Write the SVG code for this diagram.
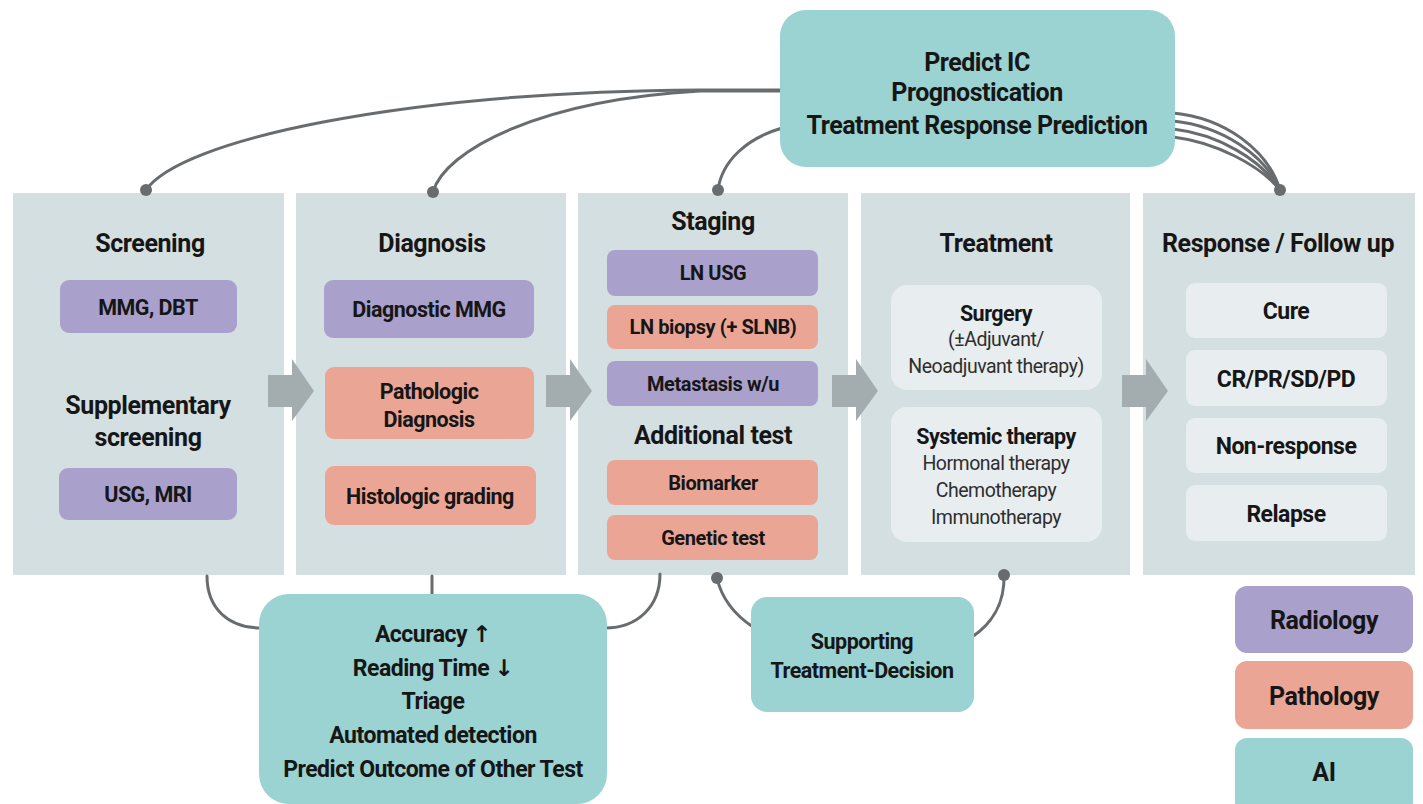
<svg xmlns="http://www.w3.org/2000/svg" width="1423" height="804" viewBox="0 0 1423 804">
<style>
text{font-family:Roboto,"Liberation Sans",Arial,sans-serif;fill:#161616;text-anchor:middle;dominant-baseline:central}
.t{font-size:25px;font-weight:700;letter-spacing:-0.4px}
.l{font-size:21.5px;font-weight:700;letter-spacing:-0.5px}
.s{font-size:20px;font-weight:700;letter-spacing:-0.4px}
.rs{font-size:23px;font-weight:700;letter-spacing:-0.5px}
.r{font-size:19.5px;font-weight:400;fill:#2e2e2e;letter-spacing:-0.5px}
.ai{font-size:23px;font-weight:700;letter-spacing:-0.5px}
.top{font-size:25px;font-weight:700;letter-spacing:-0.5px}
.ar{font-family:"DejaVu Sans",sans-serif;font-weight:700;fill:#161616}
.panel{fill:#d4dfe1}
.rad{fill:#a9a0cc}
.pat{fill:#eba595}
.aib{fill:#9ad3d1}
.lt{fill:#e8edef}
.arr{fill:#a3adaf}
.con{fill:none;stroke:#696c6e;stroke-width:3;stroke-linecap:round}
.dot{fill:#696c6e}
</style>
<rect width="1423" height="804" fill="#ffffff"/>

<g id="screening">
<rect class="panel" x="13" y="193" width="271" height="382"/>
<text class="t" x="150" y="243">Screening</text>
<rect class="rad" x="60" y="280" width="177" height="53" rx="9"/>
<text class="l" x="148" y="307">MMG, DBT</text>
<text class="t" x="148" y="405">Supplementary</text>
<text class="t" x="148" y="437">screening</text>
<rect class="rad" x="59" y="468" width="178" height="52" rx="9"/>
<text class="l" x="148" y="494">USG, MRI</text>
</g>

<g id="diagnosis">
<rect class="panel" x="296" y="193" width="270" height="382"/>
<text class="t" x="432" y="243">Diagnosis</text>
<rect class="rad" x="324" y="280" width="210" height="58" rx="9"/>
<text class="l" x="429" y="309">Diagnostic MMG</text>
<rect class="pat" x="325" y="367" width="209" height="72" rx="9"/>
<text class="l" x="429" y="391">Pathologic</text>
<text class="l" x="429" y="419">Diagnosis</text>
<rect class="pat" x="325" y="466" width="211" height="59" rx="9"/>
<text class="l" x="430" y="496">Histologic grading</text>
</g>

<g id="staging">
<rect class="panel" x="578" y="193" width="270" height="382"/>
<text class="t" x="713" y="221">Staging</text>
<rect class="rad" x="607" y="250" width="211" height="46" rx="8"/>
<text class="s" x="713" y="273">LN USG</text>
<rect class="pat" x="607" y="305" width="211" height="44" rx="8"/>
<text class="s" x="713" y="327">LN biopsy (+ SLNB)</text>
<rect class="rad" x="607" y="361" width="211" height="45" rx="8"/>
<text class="s" x="713" y="384">Metastasis w/u</text>
<text class="t" x="713" y="435">Additional test</text>
<rect class="pat" x="607" y="460" width="211" height="45" rx="8"/>
<text class="s" x="713" y="483">Biomarker</text>
<rect class="pat" x="607" y="515" width="211" height="45" rx="8"/>
<text class="s" x="713" y="538">Genetic test</text>
</g>

<g id="treatment">
<rect class="panel" x="861" y="193" width="269" height="382"/>
<text class="t" x="996" y="243">Treatment</text>
<rect class="lt" x="891" y="285" width="211" height="105" rx="16"/>
<text class="l" x="996" y="313">Surgery</text>
<text class="r" x="996" y="339">(±Adjuvant/</text>
<text class="r" x="996" y="366">Neoadjuvant therapy)</text>
<rect class="lt" x="891" y="407" width="211" height="135" rx="16"/>
<text class="l" x="996" y="436">Systemic therapy</text>
<text class="r" x="996" y="463">Hormonal therapy</text>
<text class="r" x="996" y="490">Chemotherapy</text>
<text class="r" x="996" y="517">Immunotherapy</text>
</g>

<g id="response">
<rect class="panel" x="1143" y="193" width="272" height="382"/>
<text class="t" x="1278" y="243">Response / Follow up</text>
<rect class="lt" x="1186" y="283" width="201" height="55" rx="9"/>
<text class="rs" x="1286" y="311">Cure</text>
<rect class="lt" x="1186" y="350" width="201" height="56" rx="9"/>
<text class="rs" x="1286" y="379">CR/PR/SD/PD</text>
<rect class="lt" x="1186" y="418" width="201" height="55" rx="9"/>
<text class="rs" x="1286" y="446">Non-response</text>
<rect class="lt" x="1186" y="485" width="201" height="56" rx="9"/>
<text class="rs" x="1286" y="514">Relapse</text>
</g>

<g id="flow-arrows">
<path class="arr" d="M268,375 H292 V359 L314,391 L292,421 V407 H268 Z"/>
<path class="arr" d="M546,375 H570 V359 L592,391 L570,421 V407 H546 Z"/>
<path class="arr" d="M832,375 H856 V359 L878,391 L856,421 V407 H832 Z"/>
<path class="arr" d="M1122,375 H1146 V359 L1168,391 L1146,421 V407 H1122 Z"/>
</g>

<g id="connectors">
<path class="con" d="M146,190 C180,140 400,92 700,90 L782,90"/>
<path class="con" d="M433,192 C445,150 540,100 700,91 L782,91"/>
<path class="con" d="M718,190 C722,160 748,138 782,128"/>
<path class="con" d="M1173,113 C1225,118 1268,150 1280,190"/>
<path class="con" d="M1173,121 C1222,126 1265,155 1280,190"/>
<path class="con" d="M1173,129 C1218,134 1262,160 1280,190"/>
<path class="con" d="M1173,137 C1215,142 1260,165 1280,190"/>
<circle class="dot" cx="146" cy="190" r="6"/>
<circle class="dot" cx="433" cy="192" r="6"/>
<circle class="dot" cx="718" cy="190" r="6"/>
<circle class="dot" cx="1280" cy="190" r="6"/>
<path class="con" d="M207,576 C207,608 228,628 261,628"/>
<path class="con" d="M432,576 L432,596"/>
<path class="con" d="M660,574 C660,606 638,628 605,628"/>
<path class="con" d="M717,578 C722,600 735,615 753,627"/>
<path class="con" d="M1004,575 C1005,605 990,625 972,637"/>
<circle class="dot" cx="717" cy="578" r="6"/>
<circle class="dot" cx="1004" cy="575" r="6"/>
</g>

<g id="ai-top">
<rect class="aib" x="780" y="10" width="395" height="157" rx="26"/>
<text class="top" x="977" y="62">Predict IC</text>
<text class="top" x="977" y="92">Prognostication</text>
<text class="top" x="977" y="125">Treatment Response Prediction</text>
</g>

<g id="ai-bottom">
<rect class="aib" x="259" y="594" width="348" height="210" rx="30"/>
<text class="ai" x="433" y="634">Accuracy <tspan class="ar">↑</tspan></text>
<text class="ai" x="433" y="668">Reading Time <tspan class="ar">↓</tspan></text>
<text class="ai" x="433" y="701">Triage</text>
<text class="ai" x="433" y="735">Automated detection</text>
<text class="ai" x="433" y="769">Predict Outcome of Other Test</text>
</g>

<g id="ai-decision">
<rect class="aib" x="751" y="597" width="223" height="115" rx="16"/>
<text class="l" x="862" y="641">Supporting</text>
<text class="l" x="862" y="670">Treatment-Decision</text>
</g>

<g id="legend">
<rect class="rad" x="1235" y="586" width="178" height="67" rx="12"/>
<text class="t" x="1324" y="620">Radiology</text>
<rect class="pat" x="1235" y="661" width="178" height="68" rx="12"/>
<text class="t" x="1324" y="696">Pathology</text>
<rect class="aib" x="1235" y="738" width="178" height="76" rx="12"/>
<text class="t" x="1324" y="772">AI</text>
</g>
</svg>
